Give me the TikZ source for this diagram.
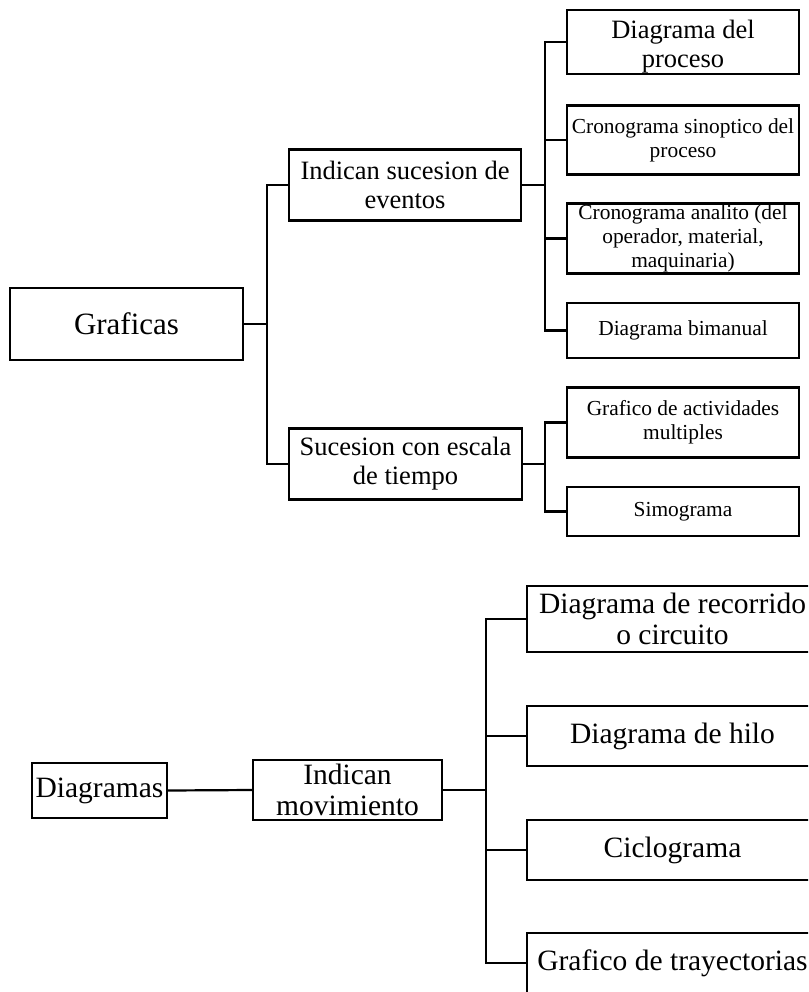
\documentclass[tikz,border=0pt]{standalone}
\usepackage{fontspec}
\setmainfont{Liberation Serif}
\begin{document}
\begin{tikzpicture}[x=1pt,y=-1pt,
  boxbase/.style={draw=black,line width=2.2pt,rectangle,inner sep=0pt,align=center,text=black},
  bx/.style n args={2}{boxbase,minimum width=#1,minimum height=#2},
  fbig/.style={font=\fontsize{31}{34}\selectfont},
  fmid/.style={font=\fontsize{26.5}{29}\selectfont},
  fsmall/.style={font=\fontsize{21.4}{24}\selectfont},
  flow/.style={font=\fontsize{29.5}{31}\selectfont},
  conn/.style={draw=black,line width=2.2pt}]
\clip (0,0) rectangle (808,992);
\useasboundingbox (0,0) rectangle (808,992);
% upper tree
\node[bx={233pt}{72pt},fbig] (graf) at (126.5,324) {Graficas};
\node[bx={232pt}{71pt},fmid] (ise) at (405,185) {Indican sucesion de\\eventos};
\node[bx={233pt}{71pt},fmid] (sce) at (405.5,464) {Sucesion con escala\\de tiempo};
\node[bx={232pt}{64pt},label={[fmid,align=center,yshift=-5pt]center:Diagrama del\\proceso}] (d1) at (683,42) {};
\node[bx={232pt}{69pt},fsmall] (d2) at (683,140) {Cronograma sinoptico del\\proceso};
\node[bx={232pt}{70pt},fsmall] (d3) at (683,238.5) {Cronograma analito (del\\operador, material,\\maquinaria)};
\node[bx={232pt}{55pt},fsmall] (d4) at (683,330.5) {Diagrama bimanual};
\node[bx={232pt}{70pt},fsmall] (d5) at (683,422.5) {Grafico de actividades\\multiples};
\node[bx={232pt}{49pt},fsmall] (d6) at (683,511.5) {Simograma};
\draw[conn] (graf.east) -- ++(23,0) |- (ise.west);
\draw[conn] (graf.east) -- ++(23,0) |- (sce.west);
\foreach \t in {d1,d2,d3,d4}{\draw[conn] (ise.east) -- ++(23,0) |- (\t.west);}
\foreach \t in {d5,d6}{\draw[conn] (sce.east) -- ++(22,0) |- (\t.west);}
% lower tree
\node[bx={135pt}{55pt},flow] (diag) at (99.5,790.5) {Diagramas};
\node[bx={189pt}{60pt},flow] (imov) at (347.5,790) {Indican\\movimiento};
\node[bx={291pt}{66pt},flow] (r1) at (672.5,619) {Diagrama de recorrido\\o circuito};
\node[bx={291pt}{60pt},flow] (r2) at (672.5,736) {Diagrama de hilo};
\node[bx={291pt}{60pt},flow] (r3) at (672.5,850) {Ciclograma};
\node[bx={291pt}{60pt},flow] (r4) at (672.5,963) {Grafico de trayectorias};
\draw[conn] (diag.east) -- (imov.west);
\foreach \t in {r1,r2,r3,r4}{\draw[conn] (imov.east) -- ++(43,0) |- (\t.west);}
\end{tikzpicture}
\end{document}
